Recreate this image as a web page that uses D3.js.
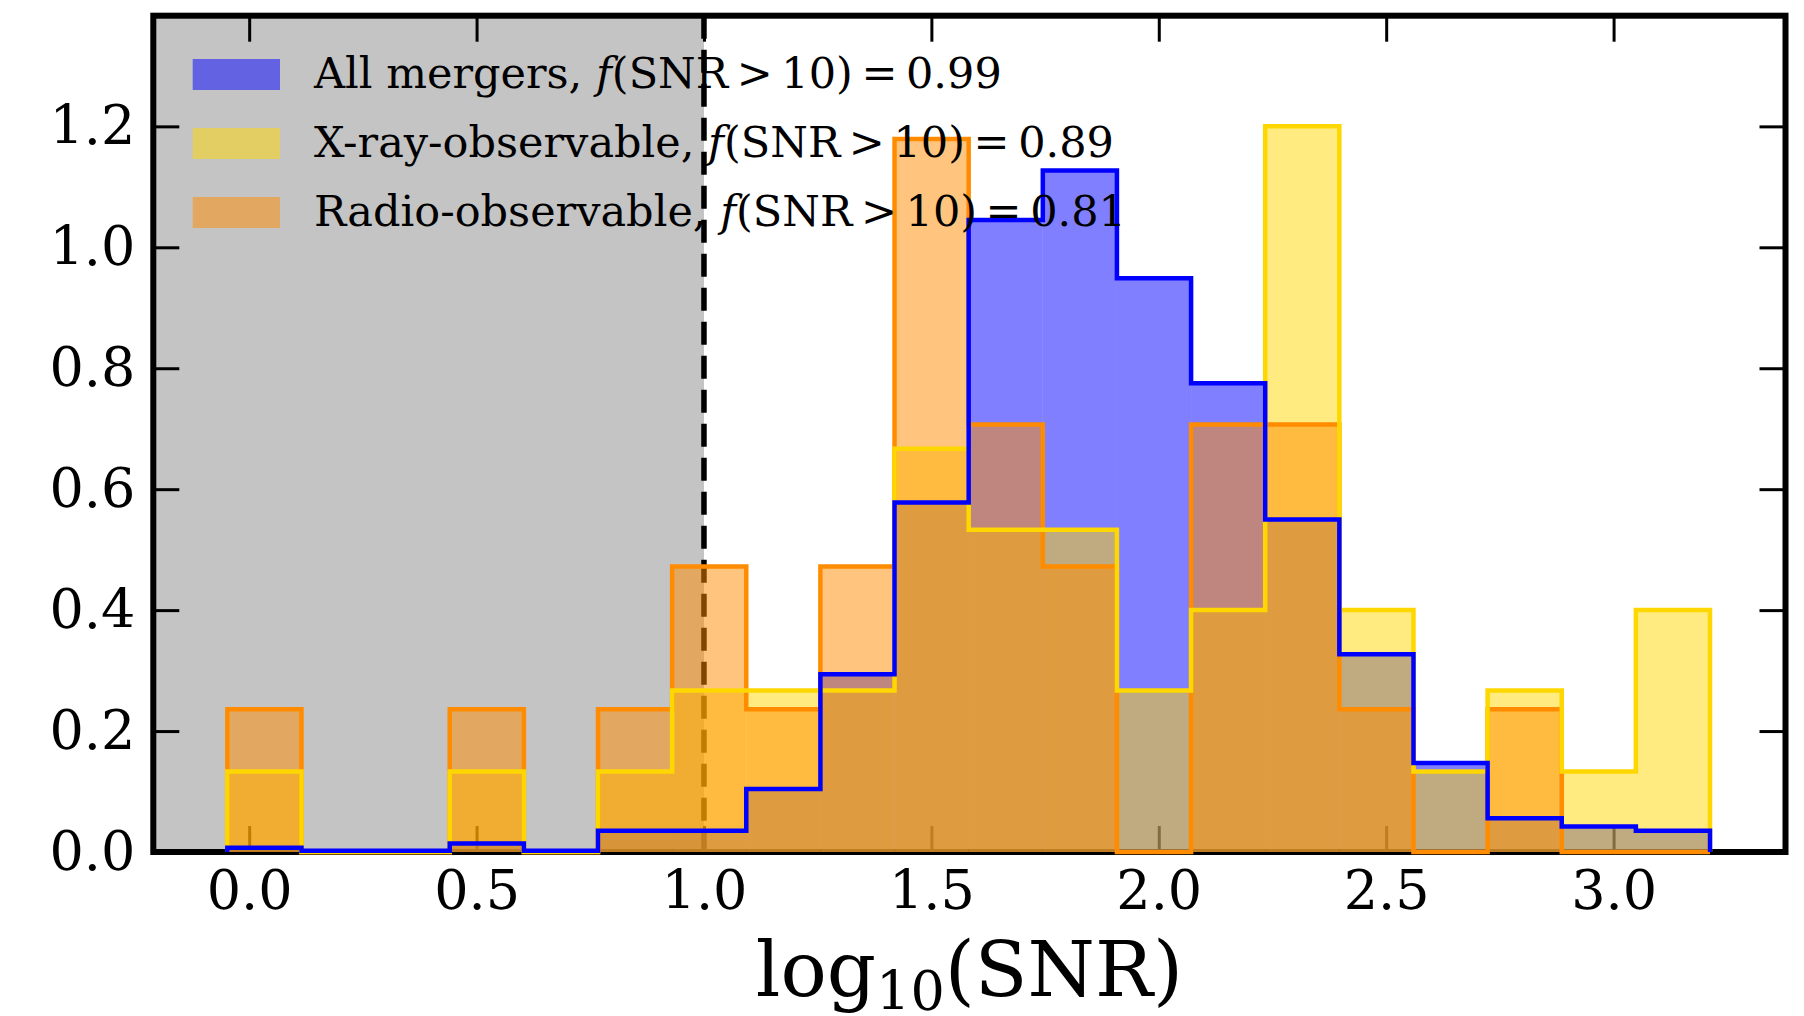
<!DOCTYPE html>
<html>
<head>
<meta charset="utf-8">
<script src="https://cdn.jsdelivr.net/npm/d3@7"></script>
<style>
  html, body { margin: 0; padding: 0; background: #fff; }
  svg text { font-family: "DejaVu Serif", serif; fill: #000; }
</style>
</head>
<body>
<div id="chart"></div>
<script>
// bin edges of log10(SNR) histograms (20 bins)
const binEdges = [-0.048, 0.115, 0.278, 0.441, 0.604, 0.767, 0.930, 1.093, 1.256, 1.419, 1.582,
                  1.745, 1.908, 2.071, 2.234, 2.397, 2.560, 2.723, 2.886, 3.049, 3.212];

// normalised densities per bin
const allMergers = [0.007, 0.002, 0.002, 0.014, 0.002, 0.035, 0.035, 0.104, 0.294, 0.578,
                    1.045, 1.127, 0.949, 0.775, 0.550, 0.327, 0.147, 0.056, 0.042, 0.035];
const xrayObs    = [0.133, 0, 0, 0.133, 0, 0.133, 0.267, 0.267, 0.267, 0.667,
                    0.533, 0.533, 0.267, 0.400, 1.200, 0.400, 0.133, 0.267, 0.133, 0.400];
const radioObs   = [0.236, 0, 0, 0.236, 0, 0.236, 0.472, 0.236, 0.472, 1.179,
                    0.707, 0.472, 0, 0.707, 0.707, 0.236, 0, 0.236, 0, 0];

const seriesNames = ["All mergers, ", "X-ray-observable, ", "Radio-observable, "];
const seriesFrac  = ["0.99", "0.89", "0.81"];
const seriesColors = ["#0000ff", "#ffd700", "#ff8c00"];

const xTicks = [0.0, 0.5, 1.0, 1.5, 2.0, 2.5, 3.0];
const yTicks = [0.0, 0.2, 0.4, 0.6, 0.8, 1.0, 1.2];
const snrCut = 1.0;
const xDomain = [-0.2108, 3.378];
const yDomain = [0, 1.383];

const width = 1804, height = 1016;
const box = { left: 153.3, right: 1785.5, top: 15.7, bottom: 852 };

const svg = d3.select("#chart").append("svg")
    .attr("width", width)
    .attr("height", height);

svg.append("rect").attr("width", width).attr("height", height).attr("fill", "#fff");

const x = d3.scaleLinear().domain(xDomain).range([box.left, box.right]);
const y = d3.scaleLinear().domain(yDomain).range([box.bottom, box.top]);

// shaded region below the SNR cut
svg.append("rect")
    .attr("x", x(xDomain[0]))
    .attr("y", y(yDomain[1]))
    .attr("width", x(snrCut) - x(xDomain[0]))
    .attr("height", y(0) - y(yDomain[1]))
    .attr("fill", "#c4c4c4");

svg.append("line")
    .attr("x1", x(snrCut)).attr("x2", x(snrCut))
    .attr("y1", y(yDomain[1])).attr("y2", y(0))
    .attr("stroke", "#000")
    .attr("stroke-width", 5.5)
    .attr("stroke-dasharray", "23,11");

// axes with inward ticks
const tickLen = 26;
function styleAxis(g) {
    g.select(".domain").remove();
    g.selectAll(".tick line").attr("stroke", "#000").attr("stroke-width", 3);
    g.selectAll(".tick text").style("font-family", "'DejaVu Serif', serif").style("font-size", "54px");
}
function noLabels(g) {
    g.selectAll(".tick text").remove();
}

svg.append("g")
    .attr("transform", `translate(0,${box.bottom})`)
    .call(d3.axisBottom(x).tickValues(xTicks).tickFormat(d3.format(".1f"))
        .tickSizeInner(-tickLen).tickSizeOuter(0).tickPadding(19))
    .call(styleAxis);

svg.append("g")
    .attr("transform", `translate(0,${box.top})`)
    .call(d3.axisTop(x).tickValues(xTicks)
        .tickSizeInner(-tickLen).tickSizeOuter(0))
    .call(styleAxis)
    .call(noLabels);

svg.append("g")
    .attr("transform", `translate(${box.left},0)`)
    .call(d3.axisLeft(y).tickValues(yTicks).tickFormat(d3.format(".1f"))
        .tickSizeInner(-tickLen).tickSizeOuter(0).tickPadding(18))
    .call(styleAxis);

svg.append("g")
    .attr("transform", `translate(${box.right},0)`)
    .call(d3.axisRight(y).tickValues(yTicks)
        .tickSizeInner(-tickLen).tickSizeOuter(0))
    .call(styleAxis)
    .call(noLabels);

// frame
svg.append("rect")
    .attr("x", box.left).attr("y", box.top)
    .attr("width", box.right - box.left)
    .attr("height", box.bottom - box.top)
    .attr("fill", "none")
    .attr("stroke", "#000")
    .attr("stroke-width", 6);

const allSeries = [allMergers, xrayObs, radioObs];

// filled bars, alpha 0.5
allSeries.forEach((vals, k) => {
    svg.append("g").selectAll("rect")
        .data(vals.map((v, i) => ({ v, x0: binEdges[i], x1: binEdges[i + 1] })).filter(d => d.v > 0))
        .join("rect")
        .attr("x", d => x(d.x0))
        .attr("width", d => x(d.x1) - x(d.x0))
        .attr("y", d => y(d.v))
        .attr("height", d => y(0) - y(d.v))
        .attr("fill", seriesColors[k])
        .attr("fill-opacity", 0.5);
});

// step outlines (orange, yellow, then blue on top)
const stepLine = d3.line().x(d => x(d[0])).y(d => y(d[1]));
function stepPoints(vals) {
    const pts = [[binEdges[0], 0]];
    vals.forEach((v, i) => {
        pts.push([binEdges[i], v]);
        pts.push([binEdges[i + 1], v]);
    });
    pts.push([binEdges[binEdges.length - 1], 0]);
    return pts;
}
[2, 1, 0].forEach(k => {
    svg.append("path")
        .attr("d", stepLine(stepPoints(allSeries[k])))
        .attr("fill", "none")
        .attr("stroke", seriesColors[k])
        .attr("stroke-width", 4.5)
        .attr("stroke-linejoin", "miter");
});

// x label
const xl = svg.append("text")
    .attr("x", (box.left + box.right) / 2)
    .attr("y", 996)
    .attr("text-anchor", "middle")
    .style("font-size", "77px");
xl.append("tspan").text("log");
xl.append("tspan").attr("dy", 14).style("font-size", "54px").text("10");
xl.append("tspan").attr("dy", -14).text("(SNR)");

// legend
const legend = svg.append("g");
seriesNames.forEach((name, k) => {
    const rowY = 59 + k * 69;
    legend.append("rect")
        .attr("x", 192.7).attr("y", rowY)
        .attr("width", 87.3).attr("height", 31)
        .attr("fill", seriesColors[k])
        .attr("fill-opacity", 0.5);
    const t = legend.append("text")
        .attr("x", 314)
        .attr("y", rowY + 28.7)
        .style("font-size", "43px");
    t.append("tspan").text(name);
    t.append("tspan").style("font-style", "italic").text("f");
    t.append("tspan").text(`(SNR\u2009>\u200910)\u2009=\u2009${seriesFrac[k]}`);
});
</script>
</body>
</html>
